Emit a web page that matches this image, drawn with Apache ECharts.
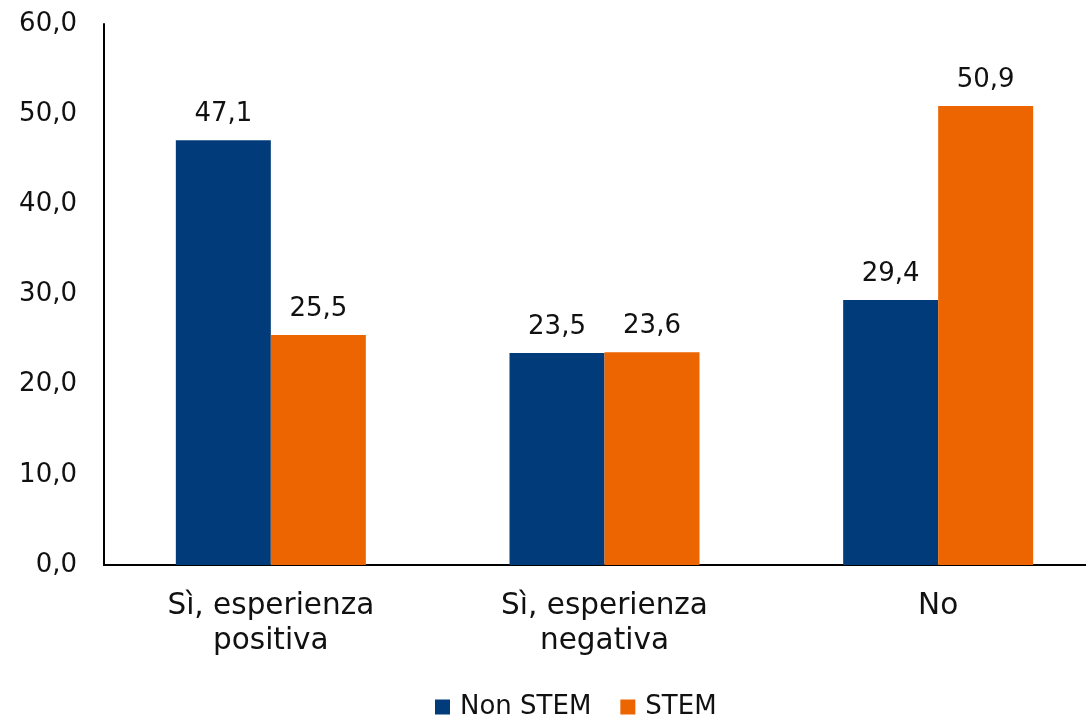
<!DOCTYPE html>
<html>
<head>
<meta charset="utf-8">
<script src="https://cdn.jsdelivr.net/npm/echarts@6/dist/echarts.min.js"></script>
<style>
  html, body { margin: 0; padding: 0; background: #ffffff; }
  #chart { width: 1086px; height: 716px; }
</style>
</head>
<body>
<div id="chart"></div>
<script>
// Categories and series values
const categories = ['Sì, esperienza\npositiva', 'Sì, esperienza\nnegativa', 'No'];
const nonStem = [47.1, 23.5, 29.4];
const stem = [25.5, 23.6, 50.9];
const seriesNames = ['Non STEM', 'STEM'];

const FONT = '"DejaVu Sans", sans-serif';
const fmt = v => Number(v).toFixed(1).replace('.', ',');

const chart = echarts.init(document.getElementById('chart'));

const labelStyle = {
  show: true,
  position: 'top',
  distance: 13,
  color: '#111111',
  fontFamily: FONT,
  fontSize: 26,
  formatter: p => fmt(p.value)
};

chart.setOption({
  animation: false,
  backgroundColor: '#ffffff',
  // plot area runs slightly past the right edge of the canvas
  grid: {
    left: 104, top: 24, width: 1001, height: 541,
    containLabel: false,
    outerBoundsMode: 'none'
  },
  legend: {
    top: 689,
    left: 430,
    itemWidth: 15,
    itemHeight: 15,
    itemGap: 29,
    icon: 'rect',
    textStyle: { fontFamily: FONT, fontSize: 26, color: '#111111', padding: [0, 0, 0, 5] },
    data: seriesNames
  },
  xAxis: {
    type: 'category',
    data: categories,
    axisLine: { show: true, lineStyle: { color: '#000000', width: 2 } },
    axisTick: { show: false },
    axisLabel: {
      margin: 24,
      color: '#111111',
      fontFamily: FONT,
      fontSize: 29.5,
      lineHeight: 35
    }
  },
  yAxis: {
    type: 'value',
    min: 0,
    max: 60,
    interval: 10,
    axisLine: { show: true, lineStyle: { color: '#000000', width: 2 } },
    axisTick: { show: false },
    splitLine: { show: false },
    axisLabel: {
      margin: 27,
      color: '#111111',
      fontFamily: FONT,
      fontSize: 26,
      formatter: v => fmt(v)
    }
  },
  series: [
    {
      name: seriesNames[0],
      type: 'bar',
      data: nonStem,
      barWidth: 95,
      barGap: '0%',
      itemStyle: { color: '#023b7a' },
      label: labelStyle
    },
    {
      name: seriesNames[1],
      type: 'bar',
      data: stem,
      barWidth: 95,
      barGap: '0%',
      itemStyle: { color: '#ec6500' },
      label: labelStyle
    }
  ]
});
</script>
</body>
</html>
